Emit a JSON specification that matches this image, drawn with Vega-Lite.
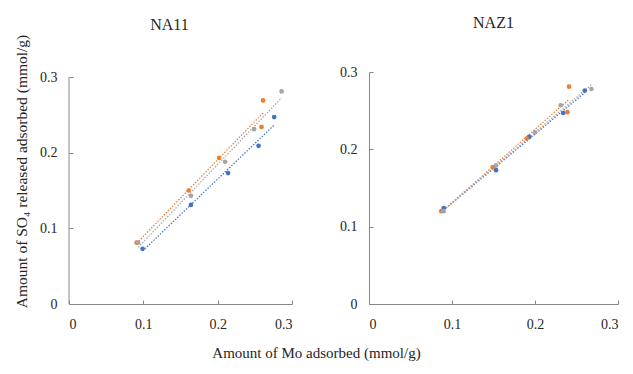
{
  "$schema": "https://vega.github.io/schema/vega-lite/v6.json",
  "background": "white",
  "padding": {"left": 14, "top": 15, "right": 1, "bottom": 10},
  "spacing": 46,
  "title": {"text": "Amount of Mo adsorbed (mmol/g)", "orient": "bottom", "anchor": "middle", "frame": "bounds", "font": "Liberation Serif", "fontSize": 15, "fontWeight": "normal", "color": "#262626", "offset": 15},
  "config": {
    "view": {"stroke": null},
    "font": "Liberation Serif",
    "axis": {"grid": false, "domainColor": "#868686", "tickColor": "#868686", "tickSize": -4, "labelFont": "Liberation Serif", "labelFontSize": 14, "labelColor": "#262626", "titleFont": "Liberation Serif", "titleFontSize": 15, "titleFontWeight": "normal", "titleColor": "#262626"},
    "axisX": {"labelPadding": 17},
    "axisY": {"labelPadding": 16},
    "title": {"font": "Liberation Serif", "fontSize": 16, "fontWeight": "normal", "color": "#262626"}
  },
  "data": {"values": [
    {"panel": "NA11", "series": "1", "x": 0.099, "y": 0.073},
    {"panel": "NA11", "series": "1", "x": 0.164, "y": 0.131},
    {"panel": "NA11", "series": "1", "x": 0.214, "y": 0.173},
    {"panel": "NA11", "series": "1", "x": 0.255, "y": 0.209},
    {"panel": "NA11", "series": "1", "x": 0.276, "y": 0.247},
    {"panel": "NA11", "series": "2", "x": 0.091, "y": 0.081},
    {"panel": "NA11", "series": "2", "x": 0.161, "y": 0.150},
    {"panel": "NA11", "series": "2", "x": 0.202, "y": 0.193},
    {"panel": "NA11", "series": "2", "x": 0.259, "y": 0.234},
    {"panel": "NA11", "series": "2", "x": 0.261, "y": 0.269},
    {"panel": "NA11", "series": "3", "x": 0.093, "y": 0.081},
    {"panel": "NA11", "series": "3", "x": 0.164, "y": 0.143},
    {"panel": "NA11", "series": "3", "x": 0.210, "y": 0.188},
    {"panel": "NA11", "series": "3", "x": 0.249, "y": 0.231},
    {"panel": "NA11", "series": "3", "x": 0.286, "y": 0.281},
    {"panel": "NAZ1", "series": "1", "x": 0.090, "y": 0.124},
    {"panel": "NAZ1", "series": "1", "x": 0.153, "y": 0.173},
    {"panel": "NAZ1", "series": "1", "x": 0.193, "y": 0.216},
    {"panel": "NAZ1", "series": "1", "x": 0.234, "y": 0.247},
    {"panel": "NAZ1", "series": "1", "x": 0.260, "y": 0.276},
    {"panel": "NAZ1", "series": "2", "x": 0.087, "y": 0.120},
    {"panel": "NAZ1", "series": "2", "x": 0.149, "y": 0.177},
    {"panel": "NAZ1", "series": "2", "x": 0.190, "y": 0.214},
    {"panel": "NAZ1", "series": "2", "x": 0.239, "y": 0.248},
    {"panel": "NAZ1", "series": "2", "x": 0.241, "y": 0.281},
    {"panel": "NAZ1", "series": "3", "x": 0.090, "y": 0.120},
    {"panel": "NAZ1", "series": "3", "x": 0.153, "y": 0.179},
    {"panel": "NAZ1", "series": "3", "x": 0.200, "y": 0.222},
    {"panel": "NAZ1", "series": "3", "x": 0.231, "y": 0.257},
    {"panel": "NAZ1", "series": "3", "x": 0.268, "y": 0.278}
  ]},
  "hconcat": [
    {
      "width": 223, "height": 232,
      "title": {"text": "NA11", "offset": 1, "dx": -11, "frame": "group"},
      "transform": [{"filter": "datum.panel == 'NA11'"}],
      "layer": [
        {
          "data": {"values": [{"axis": "y"}]},
          "mark": {"type": "rule", "color": "#868686", "strokeWidth": 1},
          "encoding": {
            "x": {"datum": 0, "type": "quantitative"},
            "y": {"datum": 0, "type": "quantitative"},
            "y2": {"datum": 0.3}
          }
        },
        {
          "transform": [{"regression": "y", "on": "x", "groupby": ["series"]}],
          "mark": {"type": "line", "strokeDash": [1.5, 1.5], "strokeWidth": 1.2},
          "encoding": {
            "x": {"field": "x", "type": "quantitative"},
            "y": {"field": "y", "type": "quantitative"},
            "color": {"field": "series", "type": "nominal"}
          }
        },
        {
          "mark": {"type": "circle", "size": 22, "opacity": 1},
          "encoding": {
            "x": {"field": "x", "type": "quantitative"},
            "y": {"field": "y", "type": "quantitative"},
            "color": {"field": "series", "type": "nominal", "legend": null, "scale": {"domain": ["1", "2", "3"], "range": ["#4472C4", "#ED7D31", "#A5A5A5"]}}
          }
        }
      ],
      "encoding": {
        "x": {"type": "quantitative", "scale": {"domain": [0, 0.3], "nice": false}, "axis": {"title": null, "values": [0, 0.1, 0.2, 0.3], "labelExpr": "datum.value == 0 ? '0' : format(datum.value, '.1f')"}},
        "y": {"type": "quantitative", "scale": {"domain": [0, 0.30661], "nice": false, "zero": true}, "axis": {"domain": false, "title": "Amount of SO₄ released adsorbed (mmol/g)", "titleFontSize": 15.5, "titlePadding": 10, "titleY": 99, "values": [0, 0.1, 0.2, 0.3], "labelExpr": "datum.value == 0 ? '0' : format(datum.value, '.1f')"}}
      }
    },
    {
      "width": 249, "height": 232,
      "title": {"text": "NAZ1", "offset": 34, "frame": "group"},
      "transform": [{"filter": "datum.panel == 'NAZ1'"}],
      "encoding": {
        "x": {"field": "x", "type": "quantitative", "scale": {"domain": [0, 0.3], "nice": false}, "axis": {"title": null, "values": [0, 0.1, 0.2, 0.3], "labelExpr": "datum.value == 0 ? '0' : format(datum.value, '.1f')"}},
        "y": {"field": "y", "type": "quantitative", "scale": {"domain": [0, 0.3], "nice": false}, "axis": {"title": null, "values": [0, 0.1, 0.2, 0.3], "labelExpr": "datum.value == 0 ? '0' : format(datum.value, '.1f')"}},
        "color": {"field": "series", "type": "nominal", "legend": null, "scale": {"domain": ["1", "2", "3"], "range": ["#4472C4", "#ED7D31", "#A5A5A5"]}}
      },
      "layer": [
        {"transform": [{"regression": "y", "on": "x", "groupby": ["series"]}], "mark": {"type": "line", "strokeDash": [1.5, 1.5], "strokeWidth": 1.2}},
        {"mark": {"type": "circle", "size": 22, "opacity": 1}}
      ]
    }
  ],
  "resolve": {"scale": {"color": "shared"}}
}
